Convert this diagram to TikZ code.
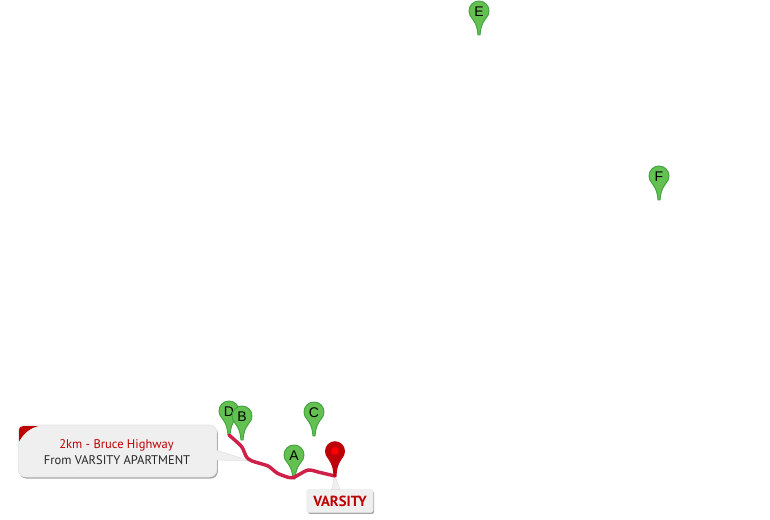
\documentclass[tikz,border=0pt]{standalone}
\usepackage{fontspec}
\setmainfont{PT Sans}
\newfontfamily\pinfont{Liberation Sans}
\usetikzlibrary{shadows}
\definecolor{pinfill}{RGB}{100,192,80}
\definecolor{pinedge}{RGB}{62,165,62}
\definecolor{routered}{RGB}{206,32,72}
\definecolor{darkred}{RGB}{190,0,0}
\definecolor{markerred}{RGB}{190,0,8}
\definecolor{holered}{RGB}{255,0,0}
\definecolor{boxgray}{RGB}{239,239,239}
\tikzset{
  routeline/.style={draw=routered,line width=2.6pt,line cap=round,line join=round},
  pinletter/.style={inner sep=0pt,font=\pinfont\fontsize{10.5pt}{11pt}\selectfont,text=black},
  pinbody/.style={fill=pinfill,draw=pinedge,line width=0.7pt},
  redbody/.style={fill=markerred,draw=markerred,line width=0.7pt},
  calloutbox/.style={fill=boxgray,draw=black!10,line width=0.5pt,rounded corners=5.5pt,inner sep=0pt,
     minimum width=149pt,minimum height=39pt,
     drop shadow={shadow xshift=0.8pt,shadow yshift=-1.2pt,opacity=0.35,fill=black}},
  pointer/.style={fill=boxgray,draw=black!12,line width=0.4pt},
  calloutline/.style={inner sep=0pt,font=\fontsize{9.4pt}{11pt}\selectfont},
  varsitybox/.style={fill=boxgray,draw=black!8,line width=0.4pt,rounded corners=1.5pt,inner sep=0pt,
     minimum width=49.5pt,minimum height=17pt,text=darkred,font=\fontsize{11pt}{12pt}\selectfont\bfseries,
     drop shadow={shadow xshift=0.8pt,shadow yshift=-1.2pt,opacity=0.35,fill=black}}
}
% #1 name, #2 x, #3 y (head centre), #4 letter
\newcommand{\greenpin}[4]{%
  \path[pinbody] (#2-1,#3+24) .. controls (#2-1.5,#3+17) and (#2-3,#3+12) .. (#2-7,#3+7.2)
     .. controls (#2-8.8,#3+5.3) and (#2-10,#3+2.8) .. (#2-10,#3)
     .. controls (#2-10,#3-5.52) and (#2-5.52,#3-10) .. (#2,#3-10)
     .. controls (#2+5.52,#3-10) and (#2+10,#3-5.52) .. (#2+10,#3)
     .. controls (#2+10,#3+2.8) and (#2+8.8,#3+5.3) .. (#2+7,#3+7.2)
     .. controls (#2+3,#3+12) and (#2+1.5,#3+17) .. (#2+1,#3+24) -- cycle;
  \node[pinletter] (#1) at (#2,#3+0.7) {#4};
  \coordinate (tip#1) at (#2,#3+24);
}
\begin{document}
\begin{tikzpicture}[x=0.75pt,y=-0.75pt]
\useasboundingbox (0,0) rectangle (770,520);
\fill[white] (0,0) rectangle (770,520);
% callout
\node[calloutbox] (callout) at (117.5,451) {};
\coordinate (calloutA) at (216,450);
\coordinate (calloutB) at (216,460);
\coordinate (calloutTip) at (250,461);
\path[pointer] (calloutA) -- (calloutTip) -- (calloutB) -- cycle;
\fill[boxgray] (214,450.5) rectangle (217.2,459.5);
\fill[darkred] (19,441.5) -- (19,431) .. controls (19,427) and (21,426) .. (24,426) -- (38.5,426)
   .. controls (30,428) and (24,433) .. (19,441.5) -- cycle;
\node[calloutline,text=darkred] (line1) at (116.5,445.3) {2km - Bruce Highway};
\node[calloutline,text=black!85] (line2) at (117,460) {From VARSITY APARTMENT};
% varsity label
\node[varsitybox] (varsity) at (340,501) {VARSITY};
\coordinate (varsityA) at (331.5,489.5);
\coordinate (varsityB) at (340,489.5);
% pins
\greenpin{D}{229}{411}{D}
\greenpin{B}{242}{416}{B}
\greenpin{C}{314}{412}{C}
\greenpin{A}{294}{455}{A}
\greenpin{E}{479}{11}{E}
\greenpin{F}{659}{176}{F}
% red marker
\coordinate (tipR) at (335,476);
\path[pointer] (varsityA) -- (tipR) -- (varsityB) -- cycle;
% route
\coordinate (r1) at (241.5,446.5);
\coordinate (r2) at (246.5,457);
\coordinate (r3) at (252,461);
\coordinate (r4) at (268,466);
\coordinate (r5) at (277,473);
\coordinate (r6) at (288,477.3);
\coordinate (r7) at (294,477.3);
\coordinate (r8) at (308,470);
\coordinate (r9) at (320,472.5);
\draw[routeline] plot[smooth,tension=0.4] coordinates {(tipD) (r1) (r2) (r3) (r4) (r5) (r6) (r7) (r8) (r9) (tipR)};
\path[redbody] (334,476) .. controls (333.5,469) and (333,465) .. (328.5,458.5)
   .. controls (326.5,456.5) and (325.5,454) .. (325.5,451.2)
   .. controls (325.5,445.9) and (329.8,441.7) .. (335,441.7)
   .. controls (340.2,441.7) and (344.5,445.9) .. (344.5,451.2)
   .. controls (344.5,454) and (343.5,456.5) .. (341.5,458.5)
   .. controls (337,465) and (336.5,469) .. (336,476) -- cycle;
\fill[holered] (335,451) circle[radius=3.8];
\end{tikzpicture}
\end{document}
